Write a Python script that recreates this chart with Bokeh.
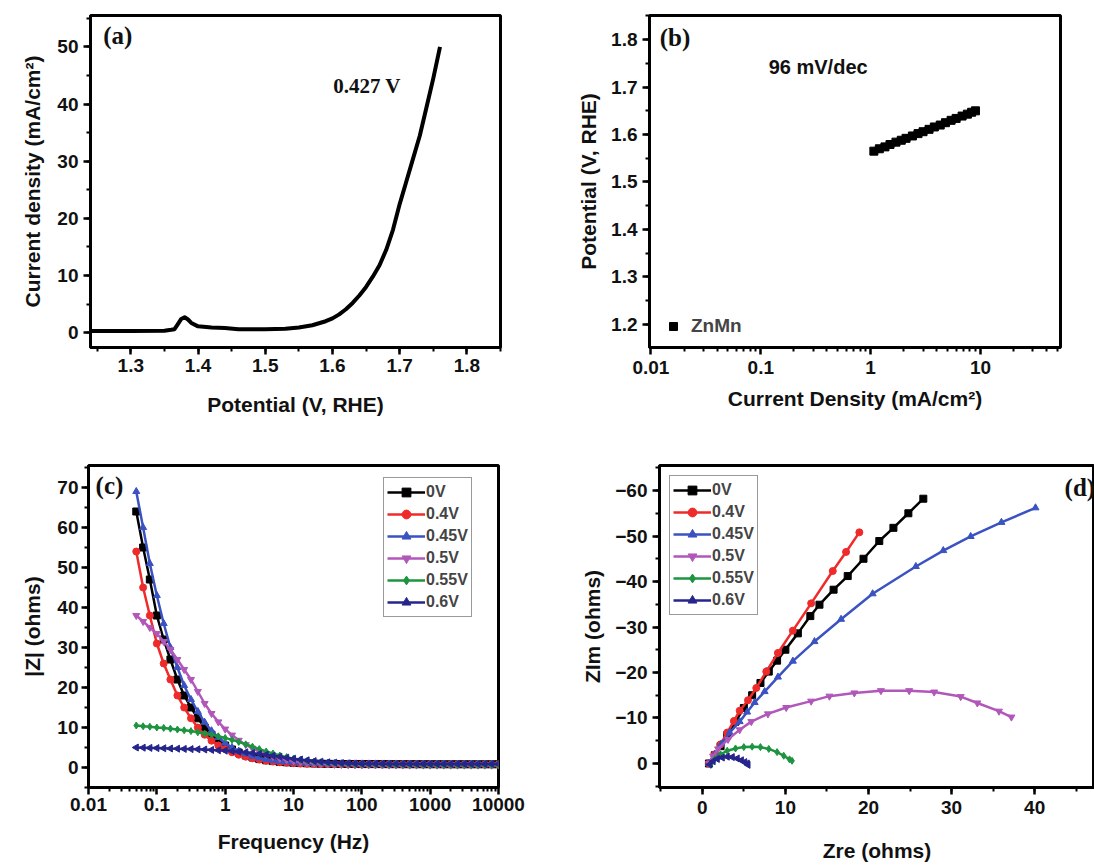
import math
from bokeh.plotting import figure
from bokeh.layouts import column, row
from bokeh.models import (Range1d, FixedTicker, SingleIntervalTicker, CustomJSTickFormatter,
                          Legend, LegendItem)
from bokeh.embed import file_html
from bokeh.resources import INLINE
from bokeh.core.properties import value

# ---------------- data ----------------
# (a) LSV
lsv_potential = [1.24, 1.30, 1.35, 1.36, 1.365, 1.37, 1.375, 1.38, 1.385, 1.39, 1.40, 1.42, 1.44,
                 1.46, 1.50, 1.53, 1.55, 1.57, 1.59, 1.60, 1.61, 1.62, 1.63, 1.64, 1.65, 1.66,
                 1.67, 1.68, 1.69, 1.70, 1.71, 1.72, 1.73, 1.74, 1.75, 1.76]
lsv_current = [0.3, 0.3, 0.35, 0.5, 0.6, 1.5, 2.4, 2.7, 2.3, 1.7, 1.1, 0.9, 0.8,
               0.6, 0.6, 0.7, 0.9, 1.3, 2.0, 2.5, 3.2, 4.1, 5.2, 6.5, 8.0, 9.8,
               11.8, 14.5, 18.0, 22.5, 26.5, 30.5, 34.5, 39.5, 44.5, 50.0]

# (b) Tafel
tafel_current = [1.07, 1.2, 1.35, 1.5, 1.7, 1.9, 2.1, 2.4, 2.7, 3.0, 3.4, 3.8, 4.3, 4.8,
                 5.4, 6.0, 6.8, 7.6, 8.3, 9.0]
tafel_potential = [1.565, 1.570, 1.574, 1.579, 1.584, 1.588, 1.592, 1.597, 1.602, 1.606,
                   1.611, 1.616, 1.620, 1.625, 1.630, 1.634, 1.639, 1.643, 1.647, 1.650]

# (c) Bode |Z|
freq_hz = [0.05, 0.063, 0.079,
           0.1, 0.126, 0.158, 0.2, 0.251, 0.316, 0.398, 0.501, 0.631, 0.794,
           1, 1.26, 1.58, 2, 2.51, 3.16, 3.98, 5.01, 6.31, 7.94,
           10, 12.6, 15.8, 20, 25.1, 31.6, 39.8, 50.1, 63.1, 79.4,
           100, 126, 158, 200, 251, 316, 398, 501, 631, 794,
           1000, 1260, 1580, 2000, 2510, 3160, 3980, 5010, 6310, 7940, 10000]
z_0V = [64, 55, 47,
        38, 32, 27, 22, 18, 15, 12.3, 10, 8.2, 6.7,
        5.5, 4.5, 3.7, 3.0, 2.5, 2.1, 1.8, 1.6, 1.4, 1.3,
        1.2, 1.1, 1.05, 1.0, 0.95, 0.92, 0.9, 0.88, 0.87, 0.86,
        0.85, 0.85, 0.84, 0.84, 0.83, 0.83, 0.82, 0.82, 0.82, 0.81,
        0.81, 0.81, 0.8, 0.8, 0.8, 0.8, 0.8, 0.8, 0.8, 0.8, 0.8]
z_04V = [54, 45, 38,
         31, 26, 22, 18, 15, 12.3, 10, 8.2, 6.7, 5.5,
         4.6, 3.8, 3.2, 2.7, 2.3, 2.0, 1.7, 1.5, 1.3, 1.2,
         1.1, 1.0, 0.95, 0.9, 0.88, 0.85, 0.83, 0.82, 0.8, 0.8,
         0.8, 0.79, 0.79, 0.78, 0.78, 0.78, 0.77, 0.77, 0.77, 0.76,
         0.76, 0.76, 0.76, 0.75, 0.75, 0.75, 0.75, 0.75, 0.75, 0.75, 0.75]
z_045V = [69, 60, 51,
          43, 36, 30, 25, 20.5, 17, 14, 11.3, 9.2, 7.5,
          6.1, 5.0, 4.1, 3.4, 2.8, 2.4, 2.0, 1.75, 1.55, 1.4,
          1.3, 1.2, 1.1, 1.05, 1.0, 0.97, 0.95, 0.93, 0.92, 0.9,
          0.9, 0.89, 0.89, 0.88, 0.88, 0.88, 0.87, 0.87, 0.87, 0.86,
          0.86, 0.86, 0.86, 0.85, 0.85, 0.85, 0.85, 0.85, 0.85, 0.85, 0.85]
z_05V = [38, 36.5, 35,
         33.5, 31.5, 29.5, 27, 24.5, 22, 19, 16, 13.5, 11.4,
         9.6, 8.1, 6.8, 5.7, 4.8, 4.0, 3.3, 2.75, 2.3, 1.95,
         1.65, 1.4, 1.22, 1.08, 0.97, 0.88, 0.8, 0.74, 0.7, 0.67,
         0.65, 0.64, 0.63, 0.63, 0.62, 0.62, 0.62, 0.61, 0.61, 0.61,
         0.6, 0.6, 0.6, 0.6, 0.6, 0.6, 0.6, 0.6, 0.6, 0.6, 0.6]
z_055V = [10.5, 10.3, 10.2,
          10.0, 9.9, 9.7, 9.5, 9.3, 9.1, 8.8, 8.5, 8.2, 7.8,
          7.4, 6.9, 6.4, 5.8, 5.2, 4.6, 4.0, 3.5, 3.0, 2.6,
          2.2, 1.9, 1.65, 1.45, 1.3, 1.15, 1.05, 0.95, 0.88, 0.82,
          0.78, 0.76, 0.74, 0.72, 0.7, 0.69, 0.68, 0.67, 0.66, 0.65,
          0.64, 0.64, 0.63, 0.63, 0.62, 0.62, 0.62, 0.61, 0.61, 0.61, 0.6]
z_06V = [5.0, 4.95, 4.9,
         4.85, 4.8, 4.75, 4.7, 4.65, 4.6, 4.55, 4.5, 4.4, 4.3,
         4.2, 4.1, 3.95, 3.8, 3.6, 3.4, 3.2, 2.95, 2.7, 2.45,
         2.2, 2.0, 1.8, 1.6, 1.45, 1.3, 1.2, 1.1, 1.05, 1.0,
         0.95, 0.93, 0.92, 0.91, 0.9, 0.9, 0.89, 0.89, 0.88, 0.88,
         0.87, 0.87, 0.87, 0.86, 0.86, 0.86, 0.85, 0.85, 0.85, 0.85, 0.85]

# (d) Nyquist (Zre, Zim)
zre_0V = [0.8, 1.5, 2.2, 3.0, 4.0, 5.0, 6.0, 7.0, 8.0, 9.0, 10.0, 11.5, 13.0, 14.1, 15.8,
          17.5, 19.4, 21.3, 23.0, 24.8, 26.6]
zim_0V = [0, -1.8, -3.8, -6.2, -9.2, -12.2, -15.0, -17.7, -20.2, -22.6, -25.0, -28.6, -32.4,
          -34.9, -38.2, -41.2, -45.0, -48.9, -51.8, -55.0, -58.2]
zre_04V = [0.8, 1.5, 2.2, 3.0, 3.8, 4.5, 5.5, 6.5, 7.7, 9.1, 10.9, 13.1, 15.7, 17.3, 18.9]
zim_04V = [0, -2.0, -4.2, -6.8, -9.3, -11.6, -13.9, -16.6, -20.2, -24.3, -29.2, -35.2,
           -42.3, -46.5, -50.8]
zre_045V = [0.8, 1.5, 2.3, 3.3, 4.5, 5.4, 6.3, 7.5, 9.1, 10.9, 13.5, 16.7, 20.5, 25.7,
            29.0, 32.3, 36.0, 40.1]
zim_045V = [0, -2.0, -4.3, -6.8, -9.2, -11.3, -13.4, -15.8, -19.0, -22.5, -26.8, -31.7,
            -37.3, -43.3, -46.8, -49.9, -53.0, -56.2]
zre_05V = [0.8, 1.3, 1.9, 3.1, 4.5, 5.9, 7.9, 10.1, 13.1, 15.3, 18.3, 21.5, 24.9, 27.9,
           31.1, 33.1, 35.7, 37.2]
zim_05V = [0, -1.6, -3.2, -5.3, -7.4, -9.2, -10.9, -12.3, -13.7, -14.8, -15.5, -16.0,
           -16.0, -15.7, -14.7, -13.3, -11.5, -10.2]
zre_055V = [1.0, 1.5, 2.2, 3.0, 4.0, 5.0, 6.0, 7.0, 8.0, 9.0, 9.8, 10.5, 10.8]
zim_055V = [0.3, -1.0, -2.0, -2.8, -3.3, -3.6, -3.7, -3.6, -3.2, -2.5, -1.7, -0.9, -0.6]
zre_06V = [0.9, 1.3, 1.8, 2.4, 3.0, 3.6, 4.2, 4.7, 5.1, 5.4, 5.5]
zim_06V = [0.2, -0.5, -1.0, -1.3, -1.5, -1.4, -1.1, -0.7, -0.3, 0.0, 0.3]

series_labels = ["0V", "0.4V", "0.45V", "0.5V", "0.55V", "0.6V"]
series_colors = ["#000000", "#EE2A2A", "#3A52C2", "#B257BA", "#1C9440", "#25258C"]
series_markers = ["square", "circle", "triangle", "inverted_triangle", "diamond", "triangle"]
series_angles = [0, 0, 0, 0, 0, math.pi / 2]

# ---------------- styling ----------------
SANS = "Liberation Sans"
SERIF = "Liberation Serif"


def style(p, xls, yls, xas, yas):
    p.outline_line_color = "black"
    p.outline_line_width = 3
    p.xgrid.visible = False
    p.ygrid.visible = False
    p.background_fill_color = "white"
    p.border_fill_color = "white"
    for ax in p.axis:
        ax.axis_line_width = 3
        ax.major_tick_line_width = 2.5
        ax.minor_tick_line_width = 2
        ax.major_tick_out = 7
        ax.major_tick_in = 0
        ax.minor_tick_out = 4
        ax.minor_tick_in = 0
        ax.major_label_text_font = SANS
        ax.major_label_text_font_style = "bold"
        ax.major_label_text_font_size = "19px"
        ax.major_label_text_color = "#111111"
        ax.axis_label_text_font = SANS
        ax.axis_label_text_font_style = "bold"
        ax.axis_label_text_font_size = "21px"
        ax.axis_label_text_color = "#111111"
    p.xaxis.major_label_standoff = xls
    p.yaxis.major_label_standoff = yls
    p.xaxis.axis_label_standoff = xas
    p.yaxis.axis_label_standoff = yas


def log_ticker(lo_exp, hi_exp):
    majors = [10.0 ** e if e < 0 else 10 ** e for e in range(lo_exp, hi_exp + 1)]
    minors = []
    for e in range(lo_exp - 1, hi_exp + 1):
        for m in range(2, 10):
            minors.append(m * 10.0 ** e)
    return FixedTicker(ticks=majors, minor_ticks=minors)


log_fmt = CustomJSTickFormatter(code="return tick.toString();")


def add_text(p, x, y, txt, font, size, align="left"):
    p.text(x=[x], y=[y], text=[txt], text_font=value(font), text_font_style="bold",
           text_font_size=size, text_baseline="top", text_align=align, text_color="#111111")


# ---------------- (a) ----------------
pa = figure(width=547, height=430, output_backend="svg", toolbar_location=None,
            x_range=Range1d(1.24, 1.85), y_range=Range1d(-2.6, 55.5),
            min_border_left=90, min_border_right=47, min_border_top=15, min_border_bottom=80,
            x_axis_label="Potential (V, RHE)", y_axis_label="Current density (mA/cm²)")
pa.line(lsv_potential, lsv_current, line_color="black", line_width=4, line_join="round")
pa.xaxis.ticker = SingleIntervalTicker(interval=0.1, num_minor_ticks=2)
pa.yaxis.ticker = SingleIntervalTicker(interval=10, num_minor_ticks=2)
style(pa, 4, 5, 18, 10)
add_text(pa, 1.259, 54.3, "(a)", SERIF, "25px")
add_text(pa, 1.601, 45.2, "0.427 V", SERIF, "21px")

# ---------------- (b) ----------------
pb = figure(width=539, height=430, output_backend="svg", toolbar_location=None,
            x_axis_type="log", x_range=Range1d(0.0097, 53.5), y_range=Range1d(1.151, 1.851),
            min_border_left=102, min_border_right=26, min_border_top=15, min_border_bottom=83,
            x_axis_label="Current Density (mA/cm²)", y_axis_label="Potential (V, RHE)")
pb.line(tafel_current, tafel_potential, line_color="black", line_width=7)
rb = pb.scatter(tafel_current, tafel_potential, marker="square", size=8,
                fill_color="black", line_color="black")
pb.xaxis.ticker = log_ticker(-2, 1)
pb.xaxis.formatter = log_fmt
pb.yaxis.ticker = SingleIntervalTicker(interval=0.1, num_minor_ticks=2)
style(pb, 6, 5, 10, 8)
add_text(pb, 0.012, 1.834, "(b)", SERIF, "25px")
add_text(pb, 0.118, 1.766, "96 mV/dec", SANS, "20px")
leg_b = Legend(items=[LegendItem(label="ZnMn", renderers=[rb])], location=(14, 10),
               border_line_color=None, background_fill_alpha=0, padding=4, margin=0,
               glyph_width=20, glyph_height=20, label_standoff=8,
               label_text_font=SANS, label_text_font_style="bold", label_text_font_size="19px")
pb.add_layout(leg_b)

# ---------------- (c) ----------------
pc = figure(width=547, height=438, output_backend="svg", toolbar_location=None,
            x_axis_type="log", x_range=Range1d(0.01, 10000), y_range=Range1d(-5, 75.5),
            min_border_left=88, min_border_right=49, min_border_top=33, min_border_bottom=81,
            x_axis_label="Frequency (Hz)", y_axis_label="|Z| (ohms)")
c_items = []
for lab, col, mk, ang, ys in zip(series_labels, series_colors, series_markers, series_angles,
                                 [z_0V, z_04V, z_045V, z_05V, z_055V, z_06V]):
    r1 = pc.line(freq_hz, ys, line_color=col, line_width=2.5)
    r2 = pc.scatter(freq_hz, ys, marker=mk, angle=ang, size=7, fill_color=col, line_color=col)
    c_items.append(LegendItem(label=lab, renderers=[r1, r2]))
pc.xaxis.ticker = log_ticker(-2, 4)
pc.xaxis.formatter = log_fmt
pc.yaxis.ticker = SingleIntervalTicker(interval=10, num_minor_ticks=2)
style(pc, 3, 3, 16, 10)
add_text(pc, 0.0127, 73.8, "(c)", SERIF, "25px")
leg_c = Legend(items=c_items, location=(295, 170), border_line_color="#333333",
               border_line_width=1.5, background_fill_color="white", padding=3, margin=0,
               spacing=0, glyph_width=38, glyph_height=22, label_height=22, label_standoff=1,
               label_text_font=SANS, label_text_font_style="bold", label_text_font_size="16px")
pc.add_layout(leg_c)

# ---------------- (d) ----------------
pd_ = figure(width=547, height=438, output_backend="svg", toolbar_location=None,
             x_range=Range1d(-5.15, 47.2), y_range=Range1d(5.28, -65.5),
             min_border_left=112, min_border_right=0, min_border_top=35, min_border_bottom=68,
             x_axis_label="Zre (ohms)", y_axis_label="ZIm (ohms)")
d_items = []
for lab, col, mk, ang, xs, ys in zip(series_labels, series_colors, series_markers, series_angles,
                                     [zre_0V, zre_04V, zre_045V, zre_05V, zre_055V, zre_06V],
                                     [zim_0V, zim_04V, zim_045V, zim_05V, zim_055V, zim_06V]):
    r1 = pd_.line(xs, ys, line_color=col, line_width=2.5)
    r2 = pd_.scatter(xs, ys, marker=mk, angle=ang, size=7, fill_color=col, line_color=col)
    d_items.append(LegendItem(label=lab, renderers=[r1, r2]))
pd_.xaxis.ticker = SingleIntervalTicker(interval=10, num_minor_ticks=2)
pd_.yaxis.ticker = SingleIntervalTicker(interval=10, num_minor_ticks=2)
style(pd_, 6, 5, 22, 8)
add_text(pd_, 43.6, -63.6, "(d)", SERIF, "25px")
leg_d = Legend(items=d_items, location="top_left", border_line_color="#333333",
               border_line_width=1.5, background_fill_color="white", padding=3, margin=10,
               spacing=0, glyph_width=38, glyph_height=22, label_height=22, label_standoff=1,
               label_text_font=SANS, label_text_font_style="bold", label_text_font_size="16px")
pd_.add_layout(leg_d)

layout = column(row(pa, pb), row(pc, pd_))
open("out.html", "w").write(file_html(layout, INLINE))
